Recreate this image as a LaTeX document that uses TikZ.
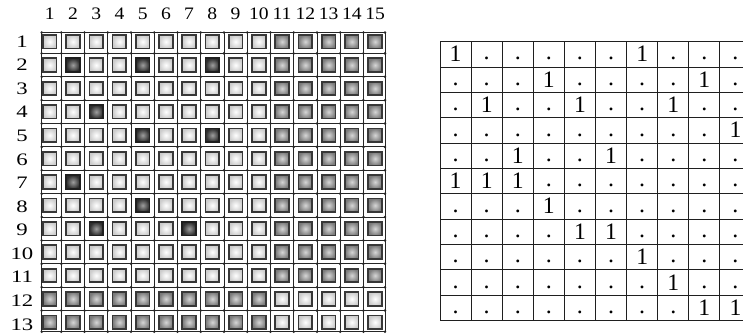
\documentclass[tikz,border=0pt]{standalone}
\usepackage{fontspec}
\usepackage{graphicx}
\setmainfont{Liberation Serif}
\begin{document}
\begin{tikzpicture}[x=1pt,y=-1pt,
  sq/.style={draw=black!78, line width=1.7pt, minimum size=13.6pt, inner sep=0pt, shading=radial},
  type0/.style={sq, inner color=white, outer color=black!20},
  type1/.style={sq, inner color=black!16, outer color=black!52},
  type2/.style={sq, draw=black!88, inner color=black!38, outer color=black!82},
  gridline/.style={black!85, line width=0.9pt},
  junction/.style={fill=black!85, circle, inner sep=0pt, minimum size=2.8pt},
  lab/.style={font=\fontsize{17.5}{19}\selectfont, anchor=base, inner sep=0pt},
  tline/.style={black!88, line width=1pt},
  one/.style={font=\fontsize{23.6}{25}\selectfont, anchor=base, inner sep=0pt},
  dotc/.style={font=\fontsize{24}{25}\selectfont, anchor=base, inner sep=0pt}
]
\useasboundingbox (0,0) rectangle (743,336);
\clip (0,0) rectangle (743,336);
\fill[white] (0,0) rectangle (743,336);

% ---------- left grid ----------
\foreach \p in {2-2,2-5,2-8,4-3,5-5,5-8,7-2,8-5,9-3,9-7}{\expandafter\xdef\csname dk\p\endcsname{1}}

% grid lines
\foreach \k in {1,...,14}{
  \pgfmathsetmacro\xx{49.7+23.24*(\k-0.5)}
  \draw[gridline] (\xx,32.5) -- (\xx,331.7);
}
\draw[gridline] (41.7,32.5) -- (41.7,331.7);
\draw[gridline] (385,32.5) -- (385,331.7);
\foreach \k in {1,...,12}{
  \pgfmathsetmacro\yy{41.7+23.38*(\k-0.5)}
  \draw[gridline] (41.7,\yy) -- (385,\yy);
}
\draw[gridline] (41.7,32.5) -- (385,32.5);
\draw[gridline] (41.7,331.7) -- (385,331.7);

% junction dots
\foreach \i in {0,...,15}{
  \foreach \j in {0,...,13}{
    \pgfmathsetmacro\xx{\i==0 ? 41.7 : (\i==15 ? 385 : 49.7+23.24*(\i-0.5))}
    \pgfmathsetmacro\yy{\j==0 ? 32.5 : (\j==13 ? 331.7 : 41.7+23.38*(\j-0.5))}
    \node[junction] (j-\i-\j) at (\xx,\yy) {};
  }
}

% squares
\foreach \r in {1,...,13}{
  \foreach \c in {1,...,15}{
    \pgfmathtruncatemacro\celltype{or(and(\r<12,\c>10),and(\r>11,\c<11))}
    \ifcsname dk\r-\c\endcsname\def\celltype{2}\fi
    \pgfmathsetmacro\xx{49.7+23.24*(\c-1)}
    \pgfmathsetmacro\yy{41.7+23.38*(\r-1)}
    \node[type\celltype] (s-\r-\c) at (\xx,\yy) {};
  }
}

% column labels
\foreach \c in {1,...,15}{
  \pgfmathsetmacro\xx{49.7+23.24*(\c-1)}
  \node[lab] (cl-\c) at (\xx,19.3) {\scalebox{1.12}[1]{\c}};
}
% row labels
\foreach \r in {1,...,13}{
  \pgfmathsetmacro\yy{47.3+23.56*(\r-1)}
  \node[lab] (rl-\r) at (22,\yy) {\scalebox{1.3}[1]{\r}};
}

% ---------- right table ----------
\foreach \k in {0,...,10}{
  \pgfmathsetmacro\xx{440+31.1*\k}
  \draw[tline] (\xx,41.7) -- (\xx,320.7);
}
\foreach \k in {0,...,11}{
  \pgfmathsetmacro\yy{41.7+25.36*\k}
  \draw[tline] (440,\yy) -- (751,\yy);
}

\foreach \row [count=\r] in {
  {1,0,0,0,0,0,1,0,0,0},
  {0,0,0,1,0,0,0,0,1,0},
  {0,1,0,0,1,0,0,1,0,0},
  {0,0,0,0,0,0,0,0,0,1},
  {0,0,1,0,0,1,0,0,0,0},
  {1,1,1,0,0,0,0,0,0,0},
  {0,0,0,1,0,0,0,0,0,0},
  {0,0,0,0,1,1,0,0,0,0},
  {0,0,0,0,0,0,1,0,0,0},
  {0,0,0,0,0,0,0,1,0,0},
  {0,0,0,0,0,0,0,0,1,1}}{
  \foreach \v [count=\c] in \row {
    \pgfmathsetmacro\xx{440+31.1*(\c-0.5)}
    \pgfmathsetmacro\yy{41.7+25.36*\r-5.3}
    \ifnum\v=1
      \node[one] (t-\r-\c) at (\xx,\yy) {1};
    \else
      \pgfmathsetmacro\yd{\yy-1.8}
      \node[dotc] (t-\r-\c) at (\xx,\yd) {.};
    \fi
  }
}
\end{tikzpicture}
\end{document}
